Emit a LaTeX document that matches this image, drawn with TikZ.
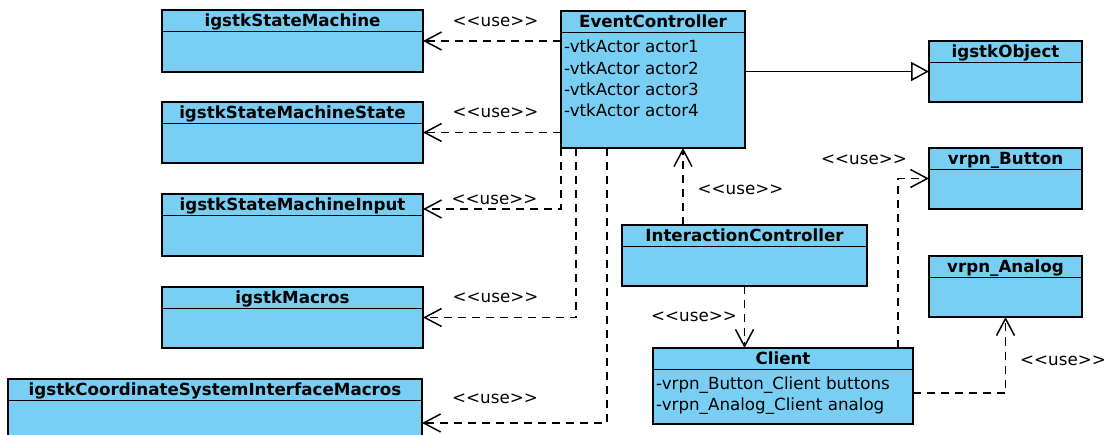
\documentclass[tikz,border=0pt]{standalone}
\usepackage{fontspec}
\setmainfont{DejaVu Sans}
\usetikzlibrary{arrows.meta,calc}

\definecolor{classfill}{RGB}{121,206,243}

\tikzset{
  classbox/.style={draw=black, fill=classfill, line width=1.5pt, inner sep=0pt, outer sep=0pt},
  classname/.style={font=\fontsize{16.7}{20}\selectfont\bfseries, inner sep=0pt, anchor=base},
  attr/.style={font=\fontsize{16.7}{20}\selectfont, inner sep=0pt, anchor=base west},
  stereo/.style={font=\fontsize{16.7}{20}\selectfont, inner sep=0pt, anchor=base},
  uses/.style={draw=black, line width=1.5pt, dash pattern=on 8pt off 6pt,
    -{Straight Barb[length=17pt, width=18pt, line width=1.5pt]}},
  extends/.style={draw=black, line width=1.5pt,
    -{Triangle[open, length=18pt, width=19pt, fill=white, line width=1.5pt]}},
}

% each angle bracket in its own box, so no guillemet is formed
\newcommand\stereotype{\mbox{<}\mbox{<}use\mbox{>}\mbox{>}}

% name, left, top, width, height, title
\newcommand\umlclass[6]{%
  \node[classbox, minimum width=#4pt, minimum height=#5pt, anchor=north west] (#1) at (#2,#3) {};
  \node[classname] (#1-name) at ([yshift=-16.5pt]#1.north) {#6};
  \draw[line width=1.5pt] ([yshift=-21.5pt]#1.north west) -- ([yshift=-21.5pt]#1.north east);
}

\begin{document}
\begin{tikzpicture}[x=1pt, y=-1pt]
  \useasboundingbox (0,0) rectangle (1105,435);
  \clip (0,0) rectangle (1105,435);

  % classes on the left
  \umlclass{sm}{162}{10}{261}{62}{igstkStateMachine}
  \umlclass{sms}{162}{102}{261}{61}{igstkStateMachineState}
  \umlclass{smi}{162}{194}{261}{62}{igstkStateMachineInput}
  \umlclass{mac}{162}{287}{261}{61}{igstkMacros}
  \umlclass{csim}{8}{379}{414}{88}{igstkCoordinateSystemInterfaceMacros}

  % central classes
  \umlclass{ec}{561}{11}{184}{137}{EventController}
  \node[attr] (ec-a1) at (564,53) {-vtkActor actor1};
  \node[attr] (ec-a2) at (564,74.3) {-vtkActor actor2};
  \node[attr] (ec-a3) at (564,95.6) {-vtkActor actor3};
  \node[attr] (ec-a4) at (564,116.9) {-vtkActor actor4};

  \umlclass{ic}{622}{225}{245}{61}{InteractionController}

  \umlclass{cl}{653}{348}{260}{76}{Client}
  \node[attr] (cl-a1) at (656,389) {-vrpn\_Button\_Client buttons};
  \node[attr] (cl-a2) at (656,410.5) {-vrpn\_Analog\_Client analog};

  % classes on the right
  \umlclass{obj}{929}{41}{153}{61}{igstkObject}
  \umlclass{btn}{929}{148}{153}{61}{vrpn\_Button}
  \umlclass{ana}{929}{256}{153}{61}{vrpn\_Analog}

  % generalization
  \draw[extends] (ec.east |- obj.west) -- (obj.west);

  % dependencies of EventController
  \draw[uses] (ec.west |- sm.east) -- (sm.east);
  \draw[uses] (ec.west |- sms.east) -- (sms.east);
  \draw[uses] (ec.south west) |- ([yshift=16pt]smi.east);
  \draw[uses] ([xshift=15pt]ec.south west) |- (mac.east);
  \draw[uses] ([xshift=46pt]ec.south west) |- (csim.east);
  \node[stereo] (u1) at (495.5,27) {\stereotype};
  \node[stereo] (u2) at (495.5,118) {\stereotype};
  \node[stereo] (u3) at (494.5,205) {\stereotype};
  \node[stereo] (u4) at (495.5,303) {\stereotype};
  \node[stereo] (u5) at (495,403) {\stereotype};

  % dependencies of InteractionController
  \draw[uses] ([xshift=61pt]ic.north west) -- ([xshift=122pt]ec.south west);
  \node[stereo] (u6) at (740.5,195) {\stereotype};
  \draw[uses] (ic.south) -- (ic.south |- cl.north);
  \node[stereo] (u7) at (694,322) {\stereotype};

  % dependencies of Client
  \draw[uses] ([xshift=-15pt]cl.north east) |- (btn.west);
  \node[stereo] (u8) at (864,165) {\stereotype};
  \draw[uses] ([yshift=-45pt]cl.north east) -| (ana.south);
  \node[stereo] (u9) at (1063,365) {\stereotype};
\end{tikzpicture}
\end{document}
